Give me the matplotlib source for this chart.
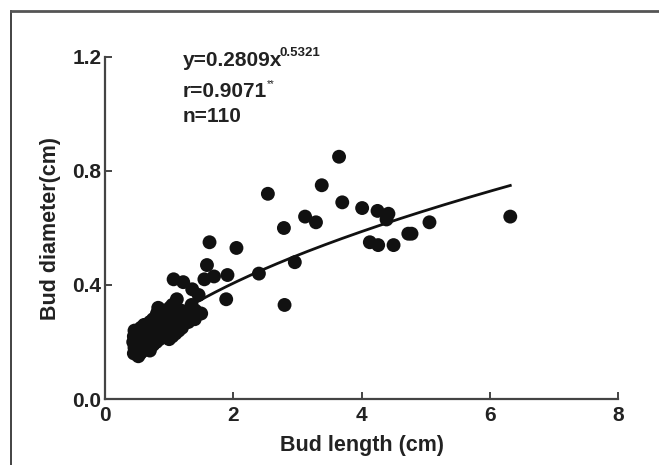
import numpy as np
import matplotlib
matplotlib.use("Agg")
import matplotlib.pyplot as plt
from matplotlib.lines import Line2D

plt.rcParams['font.family'] = ['Liberation Sans', 'DejaVu Sans']
plt.rcParams['font.weight'] = 'bold'

# bud length (cm) / bud diameter (cm)
bud_length = [
    3.65, 2.54, 3.38, 3.70, 4.01, 4.25, 4.42, 4.39, 5.06, 6.32,
    4.73, 4.78, 4.13, 4.26, 4.50, 3.12, 3.29, 2.79, 2.96, 2.80,
    2.40, 1.63, 2.05, 1.59, 1.55, 1.70, 1.91, 1.89, 1.07, 1.22,
    1.36, 1.46, 1.12, 0.83,
    0.45, 0.46, 0.44, 0.45, 0.46, 0.50, 0.51, 0.49, 0.50, 0.55,
    0.56, 0.54, 0.55, 0.56, 0.60, 0.61, 0.59, 0.60, 0.61, 0.65,
    0.66, 0.64, 0.65, 0.70, 0.71, 0.69, 0.70, 0.71, 0.70, 0.75,
    0.76, 0.74, 0.75, 0.80, 0.81, 0.79, 0.80, 0.81, 0.85, 0.86,
    0.84, 0.85, 0.90, 0.91, 0.89, 0.90, 0.95, 0.96, 0.94, 0.95,
    1.00, 1.01, 0.99, 1.00, 1.01, 1.05, 1.06, 1.04, 1.05, 1.10,
    1.11, 1.09, 1.10, 1.15, 1.16, 1.14, 1.20, 1.21, 1.19, 1.30,
    1.31, 1.40, 1.41, 1.50, 0.52, 1.35,
]
bud_diameter = [
    0.85, 0.72, 0.75, 0.69, 0.67, 0.66, 0.65, 0.63, 0.62, 0.64,
    0.58, 0.58, 0.55, 0.54, 0.54, 0.64, 0.62, 0.60, 0.48, 0.33,
    0.44, 0.55, 0.53, 0.47, 0.42, 0.43, 0.435, 0.35, 0.42, 0.41,
    0.385, 0.365, 0.35, 0.32,
    0.16, 0.18, 0.20, 0.22, 0.24, 0.17, 0.19, 0.21, 0.23, 0.16,
    0.18, 0.20, 0.22, 0.25, 0.17, 0.19, 0.21, 0.24, 0.26, 0.18,
    0.20, 0.22, 0.25, 0.17, 0.19, 0.21, 0.23, 0.26, 0.27, 0.19,
    0.22, 0.24, 0.28, 0.20, 0.23, 0.25, 0.27, 0.30, 0.21, 0.24,
    0.26, 0.29, 0.22, 0.25, 0.27, 0.31, 0.23, 0.26, 0.28, 0.30,
    0.21, 0.24, 0.27, 0.29, 0.32, 0.22, 0.25, 0.28, 0.33, 0.23,
    0.26, 0.29, 0.31, 0.24, 0.27, 0.30, 0.25, 0.28, 0.31, 0.27,
    0.30, 0.28, 0.31, 0.30, 0.15, 0.33,
]

# power fit from the annotation
coef_a = 0.2809
coef_b = 0.5321
fit_text = 'y=0.2809x'
fit_power = '0.5321'
r_text = 'r=0.9071'
n_text = 'n=110'

fig = plt.figure(figsize=(6.59, 4.65), dpi=100)
ax = fig.add_axes([105 / 659, 66 / 465, 513 / 659, 342 / 465])

ax.scatter(bud_length, bud_diameter, s=100, color='#111111', edgecolors='none', zorder=3)

fit_x = np.linspace(min(bud_length), max(bud_length), 200)
ax.plot(fit_x, coef_a * fit_x ** coef_b, color='#111111', lw=2, zorder=4)

ax.set_xlim(0, 8)
ax.set_ylim(0, 1.2)
ax.set_xticks([0, 2, 4, 6, 8])
ax.set_yticks([0.0, 0.4, 0.8, 1.2])
ax.set_yticklabels(['0.0', '0.4', '0.8', '1.2'])

for s in ['top', 'right']:
    ax.spines[s].set_visible(False)
for s in ['left', 'bottom']:
    ax.spines[s].set_color('#444444')
    ax.spines[s].set_linewidth(1.6)
ax.tick_params(direction='in', length=5, width=1.4, color='#444444',
               labelsize=15, labelcolor='#222222')
ax.tick_params(axis='x', pad=5)
ax.tick_params(axis='y', pad=2.5)

ax.set_xlabel('Bud length (cm)', fontsize=15.5, fontweight='bold', color='#222222', labelpad=7)
ax.set_ylabel('Bud diameter(cm)', fontsize=15.5, fontweight='bold', color='#222222', labelpad=8)

t1 = ax.text(0.151, 0.99, fit_text, transform=ax.transAxes,
             fontsize=15, fontweight='bold', color='#222222', va='center')
ax.annotate(fit_power, xy=(1, 0.6), xycoords=t1, xytext=(-1.5, 0), textcoords='offset points',
            fontsize=9.5, fontweight='bold', color='#222222', va='bottom')
t2 = ax.text(0.151, 0.9, r_text, transform=ax.transAxes,
             fontsize=15, fontweight='bold', color='#222222', va='center')
ax.annotate('**', xy=(1, 0.62), xycoords=t2, xytext=(0, 0), textcoords='offset points',
            fontsize=7, fontweight='normal', color='#222222', va='bottom')
ax.text(0.151, 0.825, n_text, transform=ax.transAxes,
        fontsize=15, fontweight='bold', color='#222222', va='center')

# outer frame of the panel (left and top edges)
fig.add_artist(Line2D([11 / 659, 11 / 659], [0, 1 - 11 / 465], color='#222222', lw=1.2))
fig.add_artist(Line2D([11 / 659, 1], [1 - 11 / 465, 1 - 11 / 465], color='#555555', lw=2))

fig.savefig('out.png', dpi=100)
